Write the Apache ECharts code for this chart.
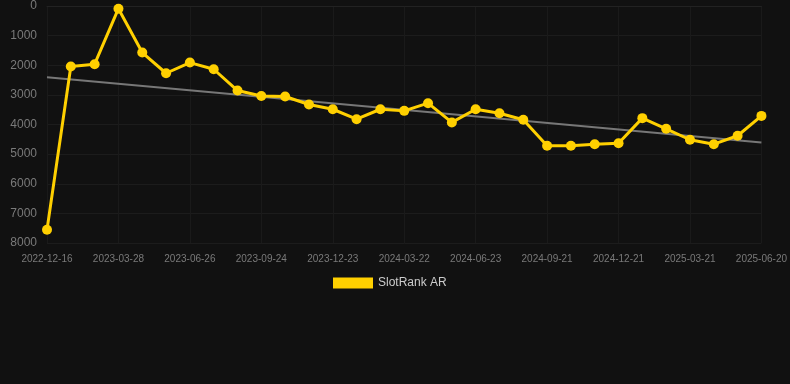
<!DOCTYPE html>
<html>
<head>
<meta charset="utf-8">
<style>
  html, body { margin: 0; padding: 0; background: #111111; }
  #chart { width: 790px; height: 384px; }
</style>
<script src="https://cdn.jsdelivr.net/npm/echarts@6/dist/echarts.min.js"></script>
</head>
<body>
<div id="chart"></div>
<script>
  // dates of each rank reading
  var dates = [
    '2022-12-16', '2023-01-27', '2023-02-26', '2023-03-28', '2023-04-27', '2023-05-27',
    '2023-06-26', '2023-07-26', '2023-08-25', '2023-09-24', '2023-10-24', '2023-11-23',
    '2023-12-23', '2024-01-22', '2024-02-21', '2024-03-22', '2024-04-22', '2024-05-23',
    '2024-06-23', '2024-07-23', '2024-08-22', '2024-09-21', '2024-10-21', '2024-11-21',
    '2024-12-21', '2025-01-20', '2025-02-19', '2025-03-21', '2025-04-20', '2025-05-21',
    '2025-06-20'
  ];
  // SlotRank AR values (lower is better, axis inverted)
  var ranks = [
    7550, 2045, 1965, 90, 1570, 2270,
    1910, 2135, 2855, 3035, 3055, 3325,
    3485, 3820, 3485, 3540, 3280, 3930,
    3485, 3620, 3840, 4720, 4720, 4665,
    4630, 3785, 4145, 4515, 4665, 4380,
    3710
  ];
  // trend line start / end
  var trend = [2405, 4605];

  var chart = echarts.init(document.getElementById('chart'));
  chart.setOption({
    backgroundColor: '#111111',
    animation: false,
    grid: {
      top: 6,
      left: 47,
      right: 28,
      bottom: 141
    },
    legend: {
      data: ['SlotRank AR'],
      top: 272,
      left: 328,
      itemWidth: 40,
      itemHeight: 11,
      icon: 'rect',
      textStyle: { color: '#cccccc', fontSize: 12 }
    },
    xAxis: {
      type: 'category',
      data: dates,
      boundaryGap: false,
      axisLine: { lineStyle: { color: '#222222' } },
      axisTick: { show: false },
      axisLabel: {
        interval: 2,
        color: '#7a7a7a',
        fontSize: 10,
        margin: 11
      },
      splitLine: {
        show: true,
        interval: 2,
        lineStyle: { color: '#1a1a1a' }
      }
    },
    yAxis: {
      type: 'value',
      inverse: true,
      min: 0,
      max: 8000,
      interval: 1000,
      axisLine: { show: false },
      axisTick: { show: false },
      axisLabel: {
        color: '#7a7a7a',
        fontSize: 12,
        margin: 10,
        formatter: function (v) { return String(v); }
      },
      splitLine: { lineStyle: { color: '#1c1c1c' } }
    },
    series: [
      {
        name: 'SlotRank AR',
        type: 'line',
        data: ranks,
        symbol: 'circle',
        symbolSize: 10,
        itemStyle: { color: '#ffd000' },
        lineStyle: { color: '#ffd000', width: 3 },
        z: 3,
        markLine: {
          silent: true,
          symbol: 'none',
          label: { show: false },
          lineStyle: { color: '#777777', width: 2, type: 'solid' },
          data: [[
            { coord: [dates[0], trend[0]] },
            { coord: [dates[dates.length - 1], trend[1]] }
          ]],
          z: 2
        }
      }
    ]
  });
</script>
</body>
</html>
